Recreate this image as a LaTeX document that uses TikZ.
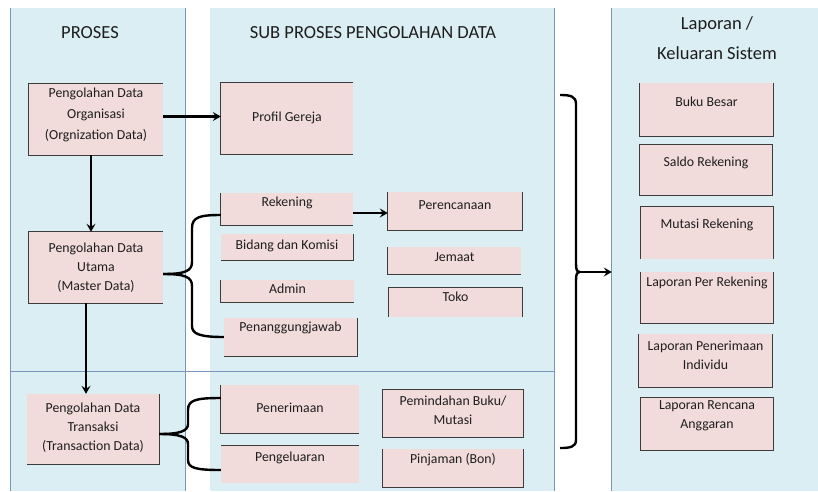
\documentclass[tikz,border=0pt]{standalone}
\usepackage{fontspec}
\setmainfont{Carlito}
\usetikzlibrary{arrows.meta,fit,calc}
\definecolor{laneblue}{RGB}{219,238,244}
\definecolor{lanerule}{RGB}{120,150,186}
\definecolor{boxpink}{RGB}{242,220,219}
\definecolor{boxedge}{RGB}{60,60,60}
\definecolor{ink}{RGB}{30,30,30}

\begin{document}
\begin{tikzpicture}[x=1pt,y=1pt,
  lane/.style={fill=laneblue, draw=none, inner sep=0pt},
  lanerule/.style={draw=lanerule, line width=1pt},
  boxbg/.style={fill=boxpink, draw=none, inner sep=0pt},
  edge/.style={draw=boxedge, line width=1.3pt},
  lbl/.style={font=\fontsize{13.8}{19}\selectfont, text=ink, align=center, inner sep=0pt},
  title/.style={font=\fontsize{18.5}{30}\selectfont, text=ink, align=center, inner sep=0pt},
  arr/.style={draw=black, line width=2.2pt, -{Stealth[length=8pt,width=9pt,inset=3pt]}},
  brace/.style={draw=black, line width=2.4pt}]

\useasboundingbox (0,0) rectangle (818,-491);
\fill[white] (0,0) rectangle (818,-491);

% ---- swim lanes ----
\node[lane, fit={(11,-8) (185,-491)}] (laneA) {};
\node[lane, fit={(210,-8) (554,-491)}] (laneB) {};
\node[lane, fit={(612,-8) (818,-491)}] (laneC) {};
\draw[lanerule] (laneA.north west) -- (laneA.south west);
\draw[lanerule] (laneA.north east) -- (laneA.south east);
\draw[lanerule] (laneB.north east) -- (laneB.south east);
\draw[lanerule] (laneC.north west) -- (laneC.south west);
\coordinate (splitL) at (11,-371);
\coordinate (splitR) at (554,-371);
\draw[lanerule] (splitL) -- (splitR);

% ---- lane titles ----
\node[title] (tA) at (90,-33) {PROSES};
\node[title] (tB) at (373,-33) {SUB PROSES PENGOLAHAN DATA};
\node[title] (tC) at (717,-38) {Laporan /\\Keluaran Sistem};

% ---- process boxes ----
\node[boxbg, fit={(29,-84) (163,-155)}] (org) {};
\node[boxbg, fit={(29,-232) (163,-303)}] (utama) {};
\node[boxbg, fit={(27,-394) (159,-464)}] (trans) {};

% ---- sub process boxes ----
\node[boxbg, fit={(221,-83) (353,-154)}] (profil) {};
\node[boxbg, fit={(221,-193) (353,-225)}] (rek) {};
\node[boxbg, fit={(221,-234) (353,-260)}] (bidang) {};
\node[boxbg, fit={(221,-280) (354,-302)}] (admin) {};
\node[boxbg, fit={(224,-318) (357,-356)}] (penang) {};
\node[boxbg, fit={(388,-192) (522,-230)}] (peren) {};
\node[boxbg, fit={(388,-247) (521,-274)}] (jemaat) {};
\node[boxbg, fit={(389,-288) (522,-317)}] (toko) {};
\node[boxbg, fit={(221,-385) (359,-433)}] (peneri) {};
\node[boxbg, fit={(221,-446) (359,-483)}] (pengel) {};
\node[boxbg, fit={(383,-390) (523,-437)}] (pemind) {};
\node[boxbg, fit={(383,-449) (523,-487)}] (pinj) {};

% ---- report boxes ----
\node[boxbg, fit={(640,-83) (773,-136)}] (buku) {};
\node[boxbg, fit={(640,-145) (772,-195)}] (saldo) {};
\node[boxbg, fit={(641,-207) (773,-259)}] (mutasi) {};
\node[boxbg, fit={(641,-272) (773,-323)}] (lprek) {};
\node[boxbg, fit={(639,-334) (772,-387)}] (lppen) {};
\node[boxbg, fit={(641,-398) (773,-450)}] (lpren) {};

% ---- box outlines (only the drawn sides) ----
\draw[edge] (org.north east) -- (org.north west) -- (org.south west) -- (org.south east);
\draw[edge] (utama.north east) -- (utama.north west) -- (utama.south west) -- (utama.south east);
\draw[edge] (trans.north east) -- (trans.south east) -- (trans.south west);
\draw[edge] (profil.north east) -- (profil.north west) -- (profil.south west) -- (profil.south east);
\draw[edge] (rek.north west) -- (rek.south west) -- (rek.south east);
\draw[edge] (bidang.north east) -- (bidang.south east) -- (bidang.south west);
\draw[edge] (admin.north west) -- (admin.south west) -- (admin.south east);
\draw[edge] (penang.north east) -- (penang.south east) -- (penang.south west);
\draw[edge] (peren.north west) -- (peren.south west) -- (peren.south east) -- (peren.north east);
\draw[edge] (jemaat.north west) -- (jemaat.south west) -- (jemaat.south east);
\draw[edge] (toko.south west) -- (toko.north west) -- (toko.north east) -- (toko.south east);
\draw[edge] (peneri.north west) -- (peneri.south west) -- (peneri.south east);
\draw[edge] (pengel.north west) -- (pengel.north east);
\draw[edge] (pemind.north west) rectangle (pemind.south east);
\draw[edge] (pinj.north west) -- (pinj.south west) -- (pinj.south east) -- (pinj.north east);
\draw[edge] (buku.north west) -- (buku.south west) -- (buku.south east) -- (buku.north east);
\draw[edge] (saldo.north west) rectangle (saldo.south east);
\draw[edge] (mutasi.south west) -- (mutasi.north west) -- (mutasi.north east) -- (mutasi.south east);
\draw[edge] (lprek.north west) -- (lprek.south west) -- (lprek.south east) -- (lprek.north east);
\draw[edge] (lppen.north west) -- (lppen.south west) -- (lppen.south east) -- (lppen.north east);
\draw[edge] (lpren.north west) rectangle (lpren.south east);

% ---- box texts ----
\node[lbl, font=\fontsize{13.8}{21}\selectfont] (org-t) at (org.center |- 0,-115) {Pengolahan Data\\Organisasi\\(Orgnization Data)};
\node[lbl] (utama-t) at (utama.center |- 0,-268) {Pengolahan Data\\Utama\\(Master Data)};
\node[lbl] (trans-t) at (trans.center |- 0,-428) {Pengolahan Data\\Transaksi\\(Transaction Data)};
\node[lbl] (profil-t) at (profil.center |- 0,-118) {Profil Gereja};
\node[lbl] (rek-t) at (rek.center |- 0,-203) {Rekening};
\node[lbl] (bidang-t) at (bidang.center |- 0,-246) {Bidang dan Komisi};
\node[lbl] (admin-t) at (admin.center |- 0,-289) {Admin};
\node[lbl] (penang-t) at (penang.center |- 0,-328) {Penanggungjawab};
\node[lbl] (peren-t) at (peren.center |- 0,-205) {Perencanaan};
\node[lbl] (jemaat-t) at (jemaat.center |- 0,-257) {Jemaat};
\node[lbl] (toko-t) at (toko.center |- 0,-297) {Toko};
\node[lbl] (peneri-t) at (peneri.center |- 0,-408) {Penerimaan};
\node[lbl] (pengel-t) at (pengel.center |- 0,-458) {Pengeluaran};
\node[lbl] (pemind-t) at (pemind.center |- 0,-410) {Pemindahan Buku/\\Mutasi};
\node[lbl] (pinj-t) at (pinj.center |- 0,-460) {Pinjaman (Bon)};
\node[lbl] (buku-t) at (buku.center |- 0,-102) {Buku Besar};
\node[lbl] (saldo-t) at (saldo.center |- 0,-163) {Saldo Rekening};
\node[lbl] (mutasi-t) at (mutasi.center |- 0,-225) {Mutasi Rekening};
\node[lbl] (lprek-t) at (lprek.center |- 0,-283) {Laporan Per Rekening};
\node[lbl] (lppen-t) at (lppen.center |- 0,-355) {Laporan Penerimaan\\Individu};
\node[lbl] (lpren-t) at (lpren.center |- 0,-416) {Laporan Rencana\\Anggaran};

% ---- arrows ----
\draw[arr] ([yshift=3pt]org.east) -- ([yshift=3pt]org.east -| profil.west);
\draw[arr] ([xshift=-5pt]org.south) -- ([xshift=-5pt]org.south |- utama.north);
\draw[arr] ([xshift=-10pt]utama.south) -- ([xshift=-10pt]utama.south |- trans.north);
\draw[arr] ([yshift=-4pt]rek.east) -- ([yshift=-4pt]rek.east -| peren.west);

% ---- brace: master data to its sub processes ----
\draw[brace] ([yshift=-6pt]rek.west) .. controls (200,-215) and (192,-217) .. (192,-228)
  -- (192,-262) .. controls (192,-271) and (185,-274) .. ([yshift=-6.5pt]utama.east);
\draw[brace] ([yshift=-6.5pt]utama.east) .. controls (185,-274) and (192,-277) .. (192,-286)
  -- (192,-326) .. controls (192,-334) and (200,-337) .. (penang.west);

% ---- brace: transaction data to its sub processes ----
\draw[brace] ([yshift=11pt]peneri.west) .. controls (196,-398) and (188,-400) .. (188,-410)
  -- (188,-424) .. controls (188,-431) and (180,-434) .. ([yshift=-5pt]trans.east);
\draw[brace] ([yshift=-5pt]trans.east) .. controls (180,-434) and (188,-437) .. (188,-444)
  -- (188,-460) .. controls (188,-468) and (196,-470) .. ([yshift=-5.5pt]pengel.west);

% ---- brace: all data to the reports ----
\coordinate (bTop) at (560,-95);
\coordinate (bBot) at (560,-448);
\coordinate (bTip) at (580,-272);
\draw[brace] (bTop) .. controls (570,-95) and (576,-96) .. (576,-104)
  -- (576,-264) .. controls (576,-270) and (577,-272) .. (bTip);
\draw[brace] (bTip) .. controls (577,-272) and (576,-274) .. (576,-280)
  -- (576,-440) .. controls (576,-447) and (570,-448) .. (bBot);
\draw[arr] (bTip) -- (bTip -| laneC.west);
\end{tikzpicture}
\end{document}
